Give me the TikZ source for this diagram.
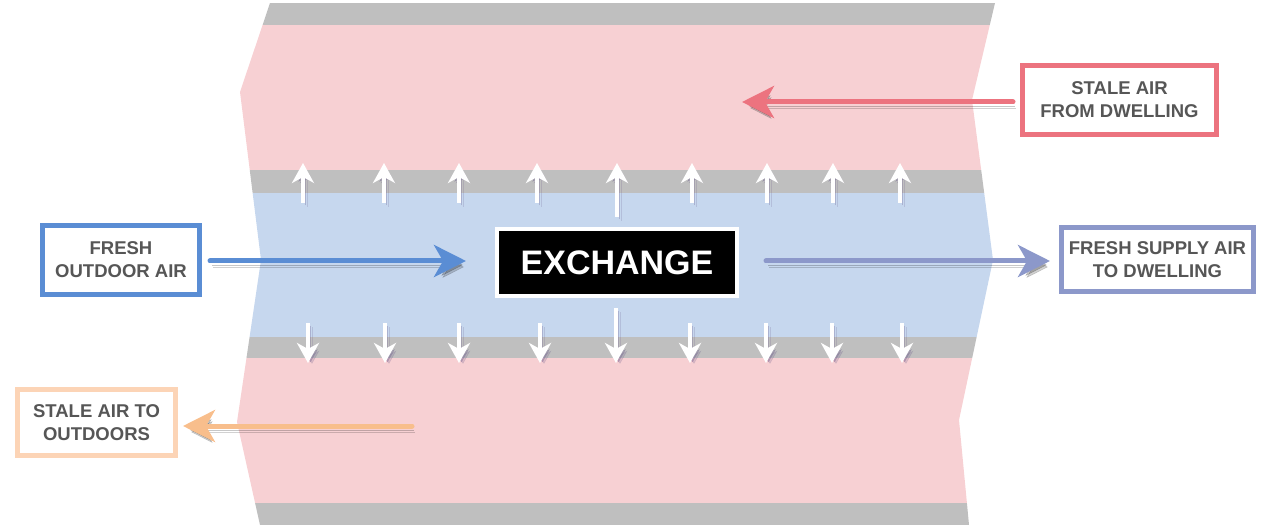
\documentclass[tikz,border=0pt]{standalone}
\usepackage{fontspec}
\setmainfont{Liberation Sans}
\usetikzlibrary{arrows.meta}
\definecolor{bandgray}{HTML}{BFBFBF}
\definecolor{bandpink}{HTML}{F7D0D3}
\definecolor{bandblue}{HTML}{C6D7EE}
\definecolor{cblue}{HTML}{5A8DD4}
\definecolor{cpurple}{HTML}{8C98CA}
\definecolor{cred}{HTML}{EC737F}
\definecolor{corange}{HTML}{F8BE8C}
\definecolor{corangebox}{HTML}{FCD4B6}
\definecolor{labeltext}{HTML}{565656}
\definecolor{arrowshadow}{HTML}{6A5A8C}
\begin{document}
\begin{tikzpicture}[x=1pt,y=-1pt,
  labelbox/.style={draw=#1, line width=5pt, fill=white, text=labeltext,
    font=\fontsize{18.5}{23}\selectfont\bfseries, align=center, inner sep=0pt},
  flow/.style={draw=#1, line width=5pt, line cap=round,
    -{Stealth[length=32pt,width=32pt,inset=9pt]},
    preaction={draw=black, opacity=0.18, transform canvas={shift={(3pt,-6pt)}}},
    preaction={draw=black, opacity=0.22, transform canvas={shift={(2pt,-4pt)}}}},
  smallarrow/.style={draw=white, line width=3.5pt,
    -{Stealth[length=20pt,width=22pt,inset=6pt]},
    preaction={draw=arrowshadow, opacity=0.2, transform canvas={shift={(4pt,-4pt)}}},
    preaction={draw=arrowshadow, opacity=0.3, transform canvas={shift={(2.5pt,-2.5pt)}}}}]
\useasboundingbox (0,0) rectangle (1274,529);

% ---- duct bands ----
\begin{scope}
  \clip (270,3) -- (240,92) -- (261,260) -- (237,422) -- (260,525)
     -- (969,525) -- (959,420) -- (993,260) -- (972,100) -- (995,3) -- cycle;
  \fill[bandgray] (200,3) rectangle (1010,25);
  \fill[bandpink] (200,25) rectangle (1010,170);
  \fill[bandgray] (200,170) rectangle (1010,193);
  \fill[bandblue] (200,193) rectangle (1010,337);
  \fill[bandgray] (200,337) rectangle (1010,358);
  \fill[bandpink] (200,358) rectangle (1010,503);
  \fill[bandgray] (200,503) rectangle (1010,525);
\end{scope}

% ---- small exchange arrows ----
\foreach \x in {303,384,459,537,692,767,833,900}
  \draw[smallarrow] (\x,203) -- (\x,163);
\draw[smallarrow] (617,217) -- (617,163);
\foreach \x in {308,385,459,540,690,766,832,902}
  \draw[smallarrow] (\x,323) -- (\x,363);
\draw[smallarrow] (616,308) -- (616,363);

% ---- nodes ----
\node[draw=white, line width=4pt, fill=black, text=white,
      font=\fontsize{34}{40}\selectfont\bfseries,
      minimum width=240pt, minimum height=67pt, inner sep=0pt]
  (exchange) at (617,262.5) {EXCHANGE};

\node[labelbox=cblue, minimum width=157pt, minimum height=69pt]
  (fresh) at (121,260) {FRESH\\OUTDOOR AIR};
\node[labelbox=cred, minimum width=194pt, minimum height=69pt]
  (stalein) at (1119.5,100) {STALE AIR\\FROM DWELLING};
\node[labelbox=cpurple, minimum width=192pt, minimum height=64pt]
  (supply) at (1157.5,259.5) {FRESH SUPPLY AIR\\TO DWELLING};
\node[labelbox=corangebox, minimum width=158pt, minimum height=66pt]
  (staleout) at (96.5,422.5) {STALE AIR TO\\OUTDOORS};

% ---- flow arrows ----
\coordinate (blueTip) at (466,261);
\coordinate (purpleStart) at (766,261);
\coordinate (redTip) at (742,102);
\coordinate (orangeStart) at (412,426);

\draw[flow=cblue] ([xshift=8pt,yshift=-1pt]fresh.east) -- (blueTip);
\draw[flow=cpurple] (purpleStart) -- ([xshift=-9pt,yshift=-1.5pt]supply.west);
\draw[flow=cred] ([xshift=-7pt,yshift=-2pt]stalein.west) -- (redTip);
\draw[flow=corange] (orangeStart) -- ([xshift=5pt,yshift=-3.5pt]staleout.east);
\end{tikzpicture}
\end{document}
